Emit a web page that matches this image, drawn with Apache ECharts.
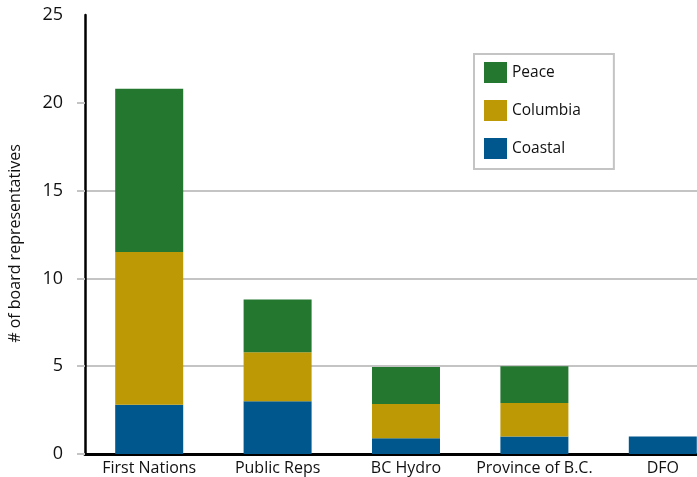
<!DOCTYPE html>
<html>
<head>
<meta charset="utf-8">
<script src="https://cdn.jsdelivr.net/npm/echarts@6/dist/echarts.min.js"></script>
<style>
	html, body { margin: 0; padding: 0; background: #fff; }
	#chart { width: 697px; height: 477px; }
</style>
</head>
<body>
<div id="chart"></div>
<script type="text/javascript">
	var categories = ['First Nations', 'Public Reps', 'BC Hydro', 'Province of B.C.', 'DFO'];
	var coastal = [2.8, 3.0, 0.9, 1.0, 1.0];
	var columbia = [8.7, 2.8, 1.95, 1.9, 0];
	var peace = [9.3, 3.0, 2.1, 2.1, 0];
	var yTicks = [0, 5, 10, 15, 20, 25];

	var font = '"Open Sans", "Liberation Sans", sans-serif';

	var option = {
		animation: false,
		backgroundColor: '#fff',
		textStyle: { fontFamily: font },
		grid: { left: 85, top: 15, width: 642, height: 439, outerBoundsMode: 'none', containLabel: false },
		legend: {
			data: ['Peace', 'Columbia', 'Coastal'],
			orient: 'vertical',
			left: 474,
			top: 54,
			padding: [8, 33, 10, 10],
			itemWidth: 23,
			itemHeight: 21,
			itemGap: 17,
			icon: 'rect',
			backgroundColor: '#fff',
			borderColor: '#c4c4c4',
			borderWidth: 2,
			textStyle: { fontSize: 15.5, color: '#111', fontFamily: font }
		},
		xAxis: {
			type: 'category',
			data: categories,
			axisLine: { lineStyle: { color: '#000', width: 3 } },
			axisTick: { show: false },
			axisLabel: { interval: 0, fontSize: 16, color: '#111', margin: 6, fontFamily: font }
		},
		yAxis: {
			type: 'value',
			min: 0,
			max: 25,
			interval: 5,
			name: '# of board representatives',
			nameLocation: 'middle',
			nameGap: 62,
			nameTextStyle: { fontSize: 16, color: '#111', fontFamily: font, padding: [0, 0, 0, -18] },
			axisLine: { show: true, lineStyle: { color: '#000', width: 2.5 } },
			axisTick: { show: true, length: 8, customValues: [0, 5, 10, 15, 20], lineStyle: { color: '#c4c4c4', width: 2 } },
			axisLabel: { fontSize: 18, color: '#111', margin: 22, customValues: yTicks, fontFamily: font },
			splitLine: { show: true, showMaxLine: false, lineStyle: { color: '#c4c4c4', width: 2 } }
		},
		series: [
			{ name: 'Coastal', type: 'bar', stack: 'all', barWidth: 68, data: coastal, itemStyle: { color: '#00578d' } },
			{ name: 'Columbia', type: 'bar', stack: 'all', barWidth: 68, data: columbia, itemStyle: { color: '#bd9906' } },
			{ name: 'Peace', type: 'bar', stack: 'all', barWidth: 68, data: peace, itemStyle: { color: '#24772f' } }
		]
	};

	var myChart = echarts.init(document.getElementById('chart'));
	myChart.setOption(option);
</script>
</body>
</html>
